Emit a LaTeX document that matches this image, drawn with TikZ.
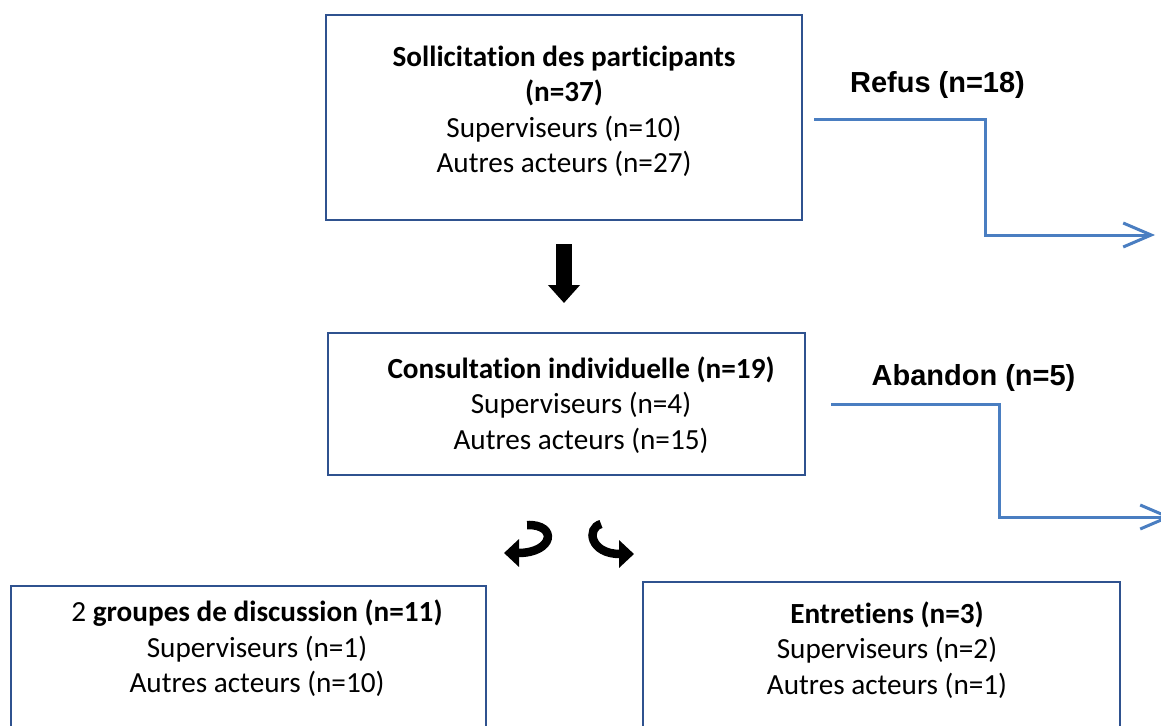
\documentclass[tikz,border=0pt]{standalone}
\usepackage{fontspec}
\setmainfont{Carlito}[Ligatures=NoCommon]
\newfontfamily\arialfont{Liberation Sans}
\usetikzlibrary{arrows.meta}
\definecolor{boxline}{RGB}{47,82,143}
\definecolor{flowblue}{RGB}{74,126,193}
\tikzset{
  box/.style={draw=boxline, line width=2pt, rectangle, inner sep=0pt},
  boxtext/.style={align=center, inner sep=0pt, font=\fontsize{29.2}{35.5}\selectfont},
  sidelabel/.style={inner sep=0pt, font=\arialfont\bfseries\fontsize{29}{33}\selectfont},
  exitline/.style={draw=flowblue, line width=3pt, -{Straight Barb[length=28pt,width=24pt,line width=3pt]}},
  blockarrow/.style={line width=16pt, -{Triangle[length=18pt,width=31pt]}},
  turnarrow/.style={line width=8.5pt, -{Triangle[length=15pt,width=27pt]}}
}
\begin{document}
\begin{tikzpicture}[x=1pt,y=-1pt]
\useasboundingbox (0,0) rectangle (1161,725);
\clip (0,0) rectangle (1161,725);

% boxes
\node[box, minimum width=476pt, minimum height=205pt] (b1) at (564,117.5) {};
\node[box, minimum width=477pt, minimum height=142pt] (b2) at (566.5,404) {};
\node[box, minimum width=475pt, minimum height=200pt] (b3) at (248.5,686) {};
\node[box, minimum width=477pt, minimum height=200pt] (b4) at (881.5,682) {};

% box texts
\node[boxtext] (t1) at (564,111.5) {\textbf{Sollicitation des participants}\\ \textbf{(n=37)}\\ Superviseurs (n=10)\\ Autres acteurs (n=27)};
\node[boxtext] (t2) at (581,405) {\textbf{Consultation individuelle (n=19)}\\ Superviseurs (n=4)\\ Autres acteurs (n=15)};
\node[boxtext] (t3) at (257,648.5) {2 \textbf{groupes de discussion (n=11)}\\ Superviseurs (n=1)\\ Autres acteurs (n=10)};
\node[boxtext] (t4) at (887,650) {\textbf{Entretiens (n=3)}\\ Superviseurs (n=2)\\ Autres acteurs (n=1)};

% exit labels
\node[sidelabel] (refus) at (937.5,85) {Refus (n=18)};
\node[sidelabel] (aband) at (973.5,378) {Abandon (n=5)};

% exit connectors
\coordinate (e1) at (1155,235);
\coordinate (e2) at (1172,517);
\draw[exitline] ([xshift=11pt,yshift=-1.5pt]b1.east) -- (985,119) -- (985,235) -- (e1);
\draw[exitline] ([xshift=25pt]b2.east) -- (999,404) -- (999,517) -- (e2);

% block arrow between the first two steps
\coordinate (da1) at (564,244);
\coordinate (da2) at (564,303);
\draw[blockarrow] (da1) -- (da2);

% turning arrows towards the two branches
\coordinate (la1) at (527,525);
\coordinate (la2) at (504,553);
\coordinate (ra1) at (601,524);
\coordinate (ra2) at (634,554);
\draw[turnarrow] (la1) .. controls (558,524) and (554,553) .. (la2);
\draw[turnarrow] (ra1) .. controls (586,528) and (590,554) .. (ra2);
\end{tikzpicture}
\end{document}
